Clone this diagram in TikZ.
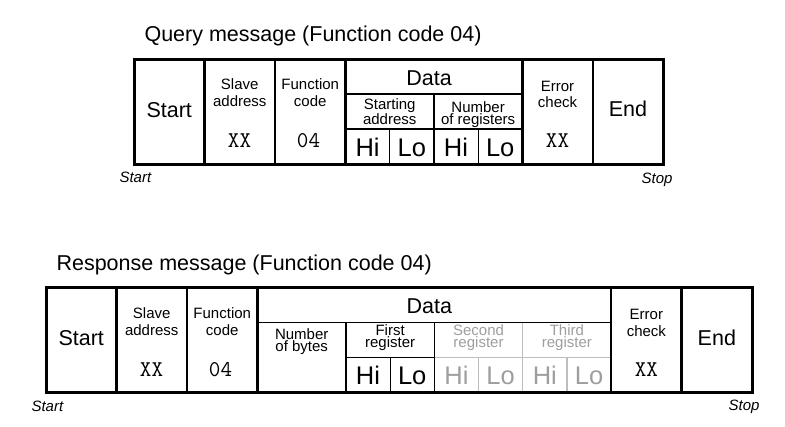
\documentclass[tikz,border=0pt]{standalone}
\usepackage{fontspec}
\setmainfont{Liberation Sans}
\definecolor{fadetext}{gray}{0.62}
\definecolor{fadeline}{gray}{0.74}
\begin{document}
\begin{tikzpicture}[x=1pt,y=-1pt,
    title/.style={anchor=base west,font=\fontsize{21.5}{24}\selectfont},
    big/.style={anchor=base,font=\fontsize{21.5}{24}\selectfont},
    label/.style={anchor=base,align=center,font=\fontsize{15}{16.8}\selectfont},
    tight/.style={anchor=base,align=center,font=\fontsize{15}{11.8}\selectfont},
    hilo/.style={anchor=base,font=\fontsize{25.5}{28}\selectfont},
    value/.style={anchor=base,font=\ttfamily\fontsize{22.5}{24}\selectfont},
    ends/.style={font=\fontsize{15}{16}\selectfont\itshape},
    frame/.style={line width=3pt},
    major/.style={line width=2.6pt},
    minor/.style={line width=1.2pt}]
  \useasboundingbox (0,0) rectangle (785,426);

  % query message
  \node[title] (qtitle) at (141,41) {Query message (Function code 04)};
  \draw[minor] (345.5,94) -- (522.3,94);
  \draw[minor] (345.5,129) -- (522.3,129);
  \draw[minor] (433.9,94) -- (433.9,164);
  \foreach \x in {389.7,478.1} \draw[minor] (\x,129) -- (\x,164);
  \foreach \x in {204.5,275,345.5,522.3,592.8} \draw[major] (\x,59) -- (\x,164);
  \draw[frame] (134,59) rectangle (663.3,164);

  \node[big] (qstart) at (169.25,117) {Start};
  \node[label] (qslave) at (239.75,106.7) {Slave\\address};
  \node[value] (qslaveval) at (239.5,147.5) {XX};
  \node[label] (qfunc) at (310.25,106.7) {Function\\code};
  \node[value] (qfuncval) at (308.5,147.5) {04};
  \node[big] (qdata) at (429,85) {Data};
  \node[tight] (qaddr) at (389.7,124.5) {Starting\\address};
  \node[tight] (qnum) at (478.1,124.5) {Number\\of registers};
  \foreach \t [count=\i] in {Hi,Lo,Hi,Lo}
    \node[hilo] (qhl\i) at (345.5+44.2*\i-22.1,156.5) {\t};
  \node[label] (qerr) at (557.5,107.8) {Error\\check};
  \node[value] (qerrval) at (557.5,147.5) {XX};
  \node[big] (qend) at (628,116.5) {End};
  \node[ends,anchor=base west] (qfrom) at (116,182) {Start};
  \node[ends,anchor=base east] (qto) at (676,183) {Stop};

  % response message
  \node[title] (rtitle) at (53,270) {Response message (Function code 04)};
  \draw[minor,fadeline] (434.3,357.5) -- (611.1,357.5);
  \foreach \x in {478.5,566.9} \draw[minor,fadeline] (\x,357.5) -- (\x,392.5);
  \draw[minor,fadeline] (522.7,322.5) -- (522.7,392.5);
  \draw[minor] (257.5,322.5) -- (611.1,322.5);
  \draw[minor] (345.9,357.5) -- (434.3,357.5);
  \foreach \x in {345.9,434.3} \draw[minor] (\x,322.5) -- (\x,392.5);
  \draw[minor] (390.1,357.5) -- (390.1,392.5);
  \foreach \x in {116.5,187,257.5,611.1,681.6} \draw[major] (\x,287.5) -- (\x,392.5);
  \draw[frame] (46,287.5) rectangle (752.1,392.5);

  \node[big] (rstart) at (81.25,345.5) {Start};
  \node[label] (rslave) at (151.75,335.2) {Slave\\address};
  \node[value] (rslaveval) at (151.5,376) {XX};
  \node[label] (rfunc) at (222.25,335.2) {Function\\code};
  \node[value] (rfuncval) at (220.5,376) {04};
  \node[big] (rdata) at (429.3,313.5) {Data};
  \node[tight] (rbytes) at (301.7,351.5) {Number\\of bytes};
  \node[tight] (rfirst) at (390.1,347.5) {First\\register};
  \node[tight,fadetext] (rsecond) at (478.5,347.5) {Second\\register};
  \node[tight,fadetext] (rthird) at (566.9,347.5) {Third\\register};
  \foreach \t/\c [count=\i] in {Hi/black,Lo/black,Hi/fadetext,Lo/fadetext,Hi/fadetext,Lo/fadetext}
    \node[hilo,\c] (rhl\i) at (345.9+44.2*\i-22.1,384.5) {\t};
  \node[label] (rerr) at (646.35,336) {Error\\check};
  \node[value] (rerrval) at (646.35,376) {XX};
  \node[big] (rend) at (716.85,345) {End};
  \node[ends,anchor=base west] (rfrom) at (28,411) {Start};
  \node[ends,anchor=base east] (rto) at (763,410) {Stop};
\end{tikzpicture}
\end{document}
